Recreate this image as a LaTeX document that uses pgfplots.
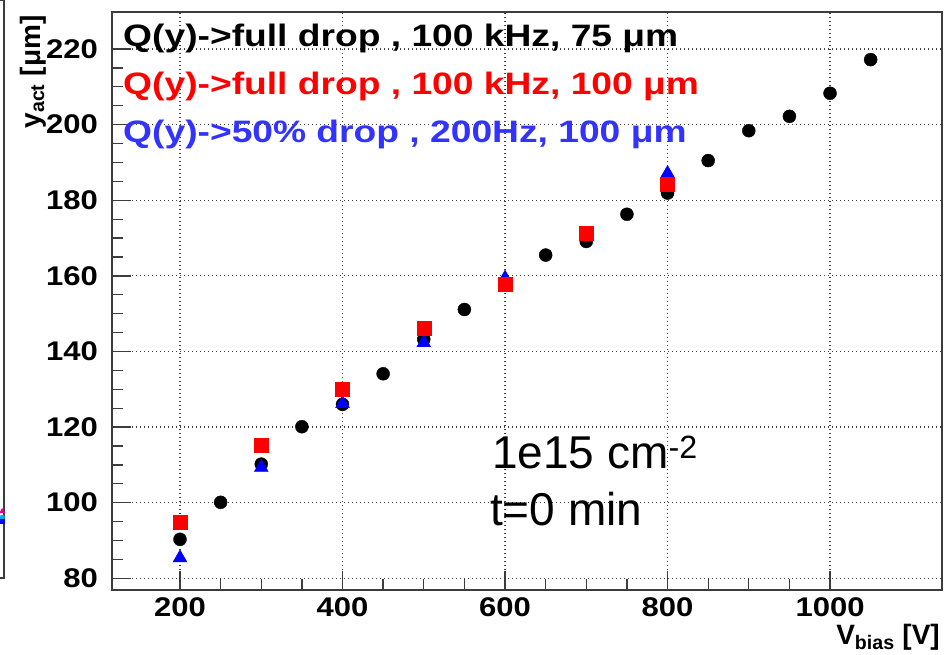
\documentclass[border=0pt]{standalone}
\usepackage{pgfplots}
\pgfplotsset{compat=1.18}
\usepackage{fontspec}
\setmainfont{Liberation Sans}

\definecolor{txtblue}{RGB}{51,51,255}
\definecolor{frame}{RGB}{60,60,60}

\begin{document}
\begin{tikzpicture}[x=1pt,y=1pt]
\path[use as bounding box] (0,0) rectangle (944,654);

% right edge of the neighbouring panel
\begin{axis}[at={(4pt,76pt)}, anchor=south east, scale only axis,
  width=600pt, height=578pt,
  xmin=0, xmax=1000, ymin=76.9, ymax=229.8,
  ticks=none, axis line style={line width=1.3pt, frame}, clip=false]
\addplot[only marks, mark=triangle*, mark size=3pt, magenta] coordinates {(997,94.5)};
\addplot[only marks, mark=*, mark size=2.5pt, cyan] coordinates {(997,92.9)};
\addplot[only marks, mark=square*, mark size=2pt, blue] coordinates {(997,91.9)};
\end{axis}

% main panel
\begin{axis}[at={(112pt,64pt)}, anchor=south west, scale only axis,
  width=830pt, height=578pt,
  xmin=116.3, xmax=1137.8, ymin=76.9, ymax=229.8,
  xtick={200,400,...,1000}, minor x tick num=3,
  ytick={80,100,...,220}, minor y tick num=3,
  tick align=inside, xtick pos=bottom, ytick pos=left,
  major tick length=19pt, minor tick length=11pt,
  every tick/.style={line width=1.3pt, frame},
  grid=major,
  major grid style={line width=1.2pt, black!75, dash pattern=on 1.2pt off 2.8pt},
  axis line style={line width=1.5pt, frame},
  /pgf/number format/assume math mode=true,
  /pgf/number format/1000 sep={},
  tick label style={font=\fontsize{27}{27}\selectfont\bfseries, xscale=1.15},
  xticklabel style={anchor=north, inner sep=0pt, yshift=-7pt},
  yticklabel style={anchor=east, inner sep=0pt, xshift=-12pt},
]
% full drop, 100 kHz, 75 um
\addplot[only marks, mark=*, mark size=6.5pt, black] coordinates {
  (200,90.3) (250,100.1) (300,110.2) (350,120.1) (400,126.0) (450,134.1)
  (500,143.2) (550,151.1) (600,158.3) (650,165.5) (700,169.1) (750,176.3)
  (800,181.9) (850,190.5) (900,198.4) (950,202.2) (1000,208.3) (1050,217.2)};
% 50% drop, 200 Hz, 100 um
\addplot[only marks, mark=triangle*, mark size=8pt, blue] coordinates {
  (200,85.4) (300,109.3) (400,126.2) (500,142.3) (600,159.4) (800,187.1)};
% full drop, 100 kHz, 100 um
\addplot[only marks, mark=square*, mark size=7pt, red] coordinates {
  (200,94.8) (300,115.1) (400,130.1) (500,146.1) (600,157.8) (700,171.3) (800,184.2)};
\end{axis}

% axis titles
\node[anchor=base east, rotate=90, font=\fontsize{28}{28}\selectfont\bfseries] at (40,642) {y\textsubscript{act} [μm]};
\node[anchor=base east, inner sep=0pt, font=\fontsize{28}{28}\selectfont\bfseries] at (940,10) {V\textsubscript{bias} [V]};

% series descriptions (wide-set bold text)
\begin{scope}[every node/.style={anchor=base west, inner sep=0pt, xscale=1.2, font=\fontsize{31}{31}\selectfont\bfseries}]
\node[black] at (123,607) {Q(y)->full drop , 100 kHz, 75 μm};
\node[red] at (123,559) {Q(y)->full drop , 100 kHz, 100 μm};
\node[txtblue] at (123,511) {Q(y)->50\% drop , 200Hz, 100 μm};
\end{scope}

% irradiation conditions
\node[anchor=base west, inner sep=0pt, font=\fontsize{46}{46}\selectfont] at (492,186) {1e15 cm\textsuperscript{-2}};
\node[anchor=base west, inner sep=0pt, font=\fontsize{46}{46}\selectfont] at (490,129) {t=0 min};
\end{tikzpicture}
\end{document}
